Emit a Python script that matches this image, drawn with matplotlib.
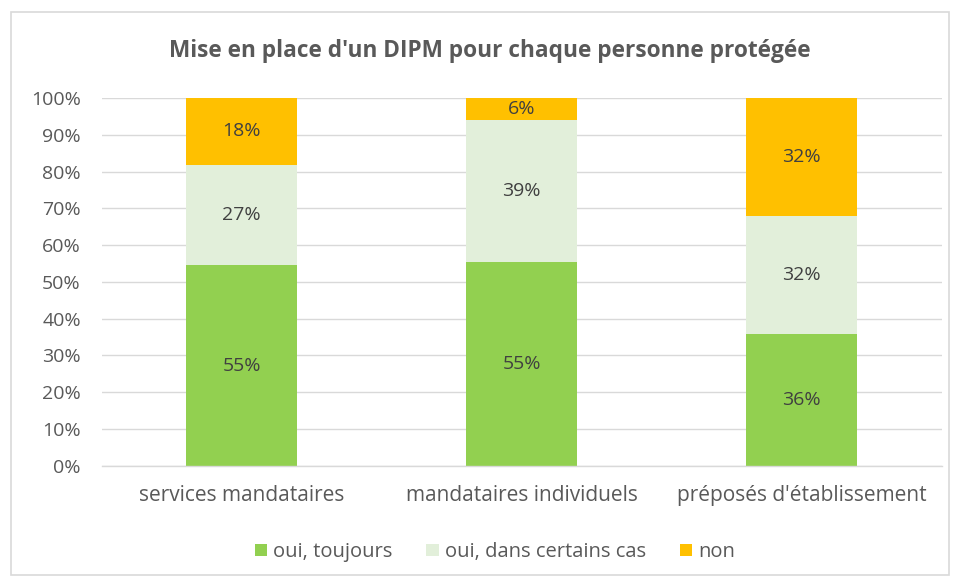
import matplotlib
matplotlib.use("Agg")
import matplotlib.pyplot as plt
from matplotlib.patches import Rectangle

# Données
categories = ["services mandataires", "mandataires individuels", "préposés d'établissement"]
oui_toujours = [54.5, 55.5, 35.7]
oui_certains = [27.3, 38.5, 32.1]
non = [18.2, 6.0, 32.1]
labels_toujours = ["55%", "55%", "36%"]
labels_certains = ["27%", "39%", "32%"]
labels_non = ["18%", "6%", "32%"]
series_noms = ["oui, toujours", "oui, dans certains cas", "non"]
yticks = [0, 10, 20, 30, 40, 50, 60, 70, 80, 90, 100]

couleurs = ["#92D050", "#E2EFDA", "#FFC000"]
gris = "#595959"

plt.rcParams["font.family"] = ["Open Sans", "DejaVu Sans"]

fig = plt.figure(figsize=(9.59, 5.8), dpi=100)
ax = fig.add_axes([0.106, 0.197, 0.876, 0.634])

x = range(len(categories))
largeur = 0.396
bas = [0, 0, 0]
series = [oui_toujours, oui_certains, non]
etiquettes = [labels_toujours, labels_certains, labels_non]
for vals, labs, coul, nom in zip(series, etiquettes, couleurs, series_noms):
    bars = ax.bar(x, vals, largeur, bottom=bas, color=coul, label=nom, zorder=2)
    for b, lab in zip(bars, labs):
        ax.text(b.get_x() + b.get_width() / 2, b.get_y() + b.get_height() / 2, lab,
                ha="center", va="center", fontsize=14, color="#404040")
    bas = [b0 + v for b0, v in zip(bas, vals)]

ax.set_xlim(-0.5, 2.5)
ax.set_ylim(0, 100)
ax.set_yticks(yticks)
ax.set_yticklabels([f"{t}%" for t in yticks])
ax.set_xticks(list(x))
ax.set_xticklabels(categories)
ax.tick_params(axis="y", length=0, labelsize=14, colors=gris, pad=15)
ax.tick_params(axis="x", length=0, labelsize=15, colors=gris, pad=14)
ax.yaxis.grid(True, color="#D9D9D9", linewidth=1, zorder=0)
for s in ["top", "right", "left"]:
    ax.spines[s].set_visible(False)
ax.spines["bottom"].set_color("#D9D9D9")
ax.spines["bottom"].set_linewidth(1)

fig.text(0.511, 0.912, "Mise en place d'un DIPM pour chaque personne protégée",
         ha="center", va="center", fontsize=16.3, fontweight="bold", color=gris)

fig.legend(loc="center", bbox_to_anchor=(0.516, 0.048), ncol=3, frameon=False,
           fontsize=14.5, labelcolor=gris, handlelength=0.6, handleheight=0.6,
           handletextpad=0.3, columnspacing=1.7)

# cadre du graphique
fig.patches.append(Rectangle((0.011, 0.008), 0.979, 0.972, transform=fig.transFigure,
                             fill=False, edgecolor="#D9D9D9", linewidth=1.2))

fig.savefig("out.png", dpi=100)
